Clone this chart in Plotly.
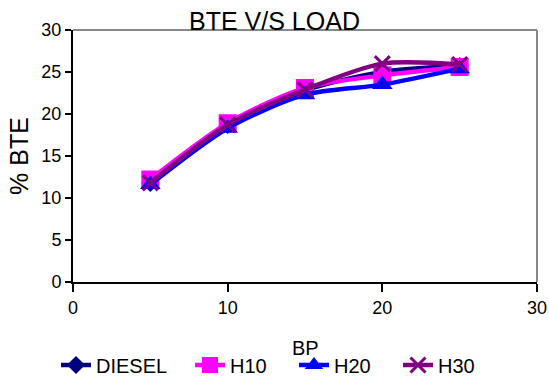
import plotly.graph_objects as go

bp = [5, 10, 15, 20, 25]
diesel = [11.8, 18.7, 22.8, 25.0, 25.7]
h10 = [12.2, 18.9, 23.1, 24.6, 25.6]
h20 = [11.6, 18.3, 22.3, 23.5, 25.4]
h30 = [11.8, 18.7, 22.9, 26.0, 25.9]

series = [
    ("DIESEL", diesel, "#000080", "diamond", 14),
    ("H10", h10, "#FF00FF", "square", 18),
    ("H20", h20, "#0000FF", "triangle-up", 18),
    ("H30", h30, "#800080", "x-thin", 15),
]
legend_ids = ["legend", "legend2", "legend3", "legend4"]
legend_x = [56, 190, 294, 398]

fig = go.Figure()
for (name, vals, col, sym, sz), lid in zip(series, legend_ids):
    fig.add_trace(go.Scatter(
        x=bp, y=vals, name=name, mode="lines+markers", legend=lid,
        line=dict(color=col, width=4.5, shape="spline", smoothing=0.8),
        marker=dict(symbol=sym, size=sz, color=col,
                    line=dict(color=col, width=3 if sym == "x-thin" else 0)),
    ))

legend_common = dict(orientation="h", xref="container", yref="container",
                     xanchor="left", y=1 - 365 / 380, yanchor="middle",
                     font=dict(size=20), bgcolor="rgba(0,0,0,0)", borderwidth=0)
legends = {}
for lid, lx in zip(legend_ids, legend_x):
    legends[lid] = dict(legend_common, x=lx / 549)

fig.update_layout(
    width=549, height=380,
    margin=dict(l=73, r=12, t=30, b=98, autoexpand=False),
    paper_bgcolor="white", plot_bgcolor="white",
    font=dict(family="Liberation Sans, Arial, sans-serif", color="black", size=18),
    title=dict(text="BTE V/S LOAD", x=0.5, xanchor="center",
               y=1 - 21 / 380, yanchor="middle", font=dict(size=25)),
    showlegend=True,
    xaxis=dict(range=[0, 30], tickvals=[0, 10, 20, 30], showline=True, linecolor="black",
               linewidth=2, ticks="outside", ticklen=8, tickwidth=2, tickcolor="black",
               showgrid=False, zeroline=False, automargin=False),
    yaxis=dict(range=[0, 30], tickvals=[0, 5, 10, 15, 20, 25, 30], showline=True,
               linecolor="black", linewidth=2, ticks="outside", ticklen=6, tickwidth=2,
               tickcolor="black", showgrid=False, zeroline=False, automargin=False,
               title=dict(text="% BTE", font=dict(size=25), standoff=6)),
    annotations=[
        dict(text="BP", xref="paper", yref="paper", x=0.5, y=(282 - 348) / 252,
             xanchor="center", yanchor="middle", showarrow=False, font=dict(size=20)),
    ],
    shapes=[
        dict(type="line", xref="paper", yref="paper", x0=0, x1=1, y0=1, y1=1,
             line=dict(color="#888888", width=2), layer="below"),
        dict(type="line", xref="paper", yref="paper", x0=1, x1=1, y0=0, y1=1,
             line=dict(color="#888888", width=2), layer="below"),
    ],
    **legends,
)

fig.write_html("out.html")
